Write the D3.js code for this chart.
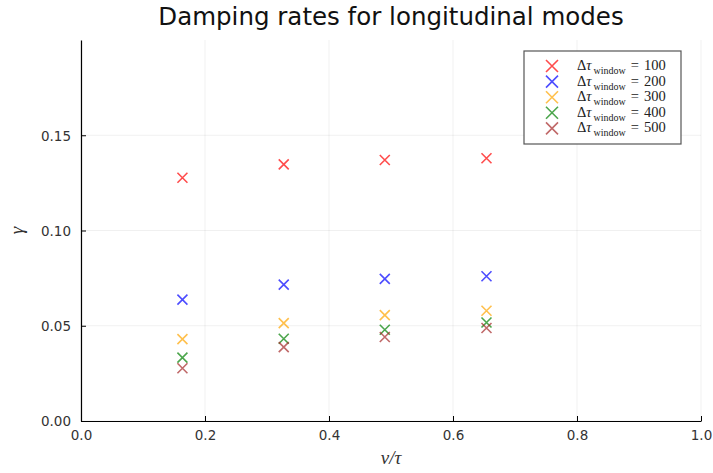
<!DOCTYPE html>
<html>
<head>
<meta charset="utf-8">
<script src="https://cdn.jsdelivr.net/npm/d3@7"></script>
<style>
  body { margin: 0; background: #fff; }
  text { font-family: "DejaVu Sans", sans-serif; }
  .tick-label { font-size: 13.5px; fill: #333; }
  .serif { font-family: "Liberation Serif", "DejaVu Serif", serif; }
</style>
</head>
<body>
<svg id="chart" width="713" height="473"></svg>
<script>
/* ---------- Dados ---------- */
const nuTau   = [0.1636, 0.327, 0.490, 0.654];
const windows = [100, 200, 300, 400, 500];
const colors  = ['#ff0000', '#0000ff', '#ffa500', '#008000', '#a52a2a'];
const gamma100 = [0.1277, 0.1347, 0.1370, 0.1379];
const gamma200 = [0.0637, 0.0716, 0.0746, 0.0760];
const gamma300 = [0.0430, 0.0514, 0.0556, 0.0579];
const gamma400 = [0.0333, 0.0432, 0.0479, 0.0517];
const gamma500 = [0.0277, 0.0388, 0.0441, 0.0488];
const series = [gamma100, gamma200, gamma300, gamma400, gamma500];
const xTicks = [0, 0.2, 0.4, 0.6, 0.8, 1.0];
const yTicks = [0, 0.05, 0.10, 0.15];

/* ---------- Layout ---------- */
const svg = d3.select('#chart');
const m = { left: 81, right: 701, top: 40, bottom: 421 };
const x = d3.scaleLinear().domain([0, 1]).range([m.left, m.right]);
const y = d3.scaleLinear().domain([0, 0.2]).range([m.bottom, m.top]);

/* grade */
const grid = svg.append('g').attr('stroke', '#000').attr('stroke-opacity', 0.1).attr('stroke-width', 0.6);
xTicks.forEach(t => grid.append('line').attr('x1', x(t)).attr('x2', x(t)).attr('y1', m.top).attr('y2', m.bottom));
yTicks.forEach(t => grid.append('line').attr('x1', m.left).attr('x2', m.right).attr('y1', y(t)).attr('y2', y(t)));

/* eixos */
const xAxis = d3.axisBottom(x).tickValues(xTicks).tickFormat(d3.format('.1f')).tickSizeInner(-5).tickSizeOuter(0).tickPadding(9);
const yAxis = d3.axisLeft(y).tickValues(yTicks).tickFormat(d3.format('.2f')).tickSizeInner(-5).tickSizeOuter(0).tickPadding(10);

const gx = svg.append('g').attr('transform', `translate(0,${m.bottom})`).call(xAxis);
const gy = svg.append('g').attr('transform', `translate(${m.left},0)`).call(yAxis);
[gx, gy].forEach(g => {
  g.select('.domain').attr('stroke', '#000').attr('stroke-width', 1.2);
  g.selectAll('.tick line').attr('stroke', '#000').attr('stroke-width', 1);
  g.selectAll('.tick text').attr('class', 'tick-label').style('font-family', '"DejaVu Sans", sans-serif').attr('font-size', null);
});
gy.selectAll('.tick text').attr('dy', '0.36em');

/* titulo e rótulos */
svg.append('text').attr('x', (m.left + m.right) / 2).attr('y', 25)
  .attr('text-anchor', 'middle').attr('font-size', 24.5).attr('fill', '#111')
  .text('Damping rates for longitudinal modes');

svg.append('text').attr('class', 'serif').attr('x', x(0.5)).attr('y', 464)
  .attr('text-anchor', 'middle').attr('font-size', 19).attr('font-style', 'italic').attr('fill', '#333')
  .text('ν/τ');

svg.append('text').attr('class', 'serif')
  .attr('transform', `translate(23,${(m.top + m.bottom) / 2}) rotate(-90)`)
  .attr('text-anchor', 'middle').attr('font-size', 19).attr('font-style', 'italic').attr('fill', '#333')
  .text('γ');

/* marcadores */
function cross(g, cx, cy, s, col) {
  g.append('path')
    .attr('d', `M${cx - s},${cy - s}L${cx + s},${cy + s}M${cx - s},${cy + s}L${cx + s},${cy - s}`)
    .attr('stroke', col).attr('stroke-width', 1.6).attr('stroke-opacity', 0.7).attr('fill', 'none');
}
const pts = svg.append('g');
series.forEach((vals, i) => {
  vals.forEach((v, j) => cross(pts, x(nuTau[j]), y(v), 5, colors[i]));
});

/* legenda */
const leg = svg.append('g');
leg.append('rect').attr('x', 524).attr('y', 51).attr('width', 157).attr('height', 93)
  .attr('fill', '#fff').attr('stroke', '#555').attr('stroke-width', 1.2);
windows.forEach((w, i) => {
  const ly = 66 + i * 15.6;
  cross(leg, 552, ly, 6, colors[i]);
  const t = leg.append('text').attr('class', 'serif').attr('x', 577).attr('y', ly + 4)
    .attr('font-size', 14.5).attr('fill', '#222');
  t.append('tspan').text('Δ');
  t.append('tspan').attr('font-style', 'italic').text('τ');
  t.append('tspan').attr('font-size', 10).attr('dy', 4).attr('dx', 2).text('window');
  t.append('tspan').attr('dy', -4).attr('dx', 5).text('=');
  t.append('tspan').attr('dx', 5).text(w);
});
</script>
</body>
</html>
